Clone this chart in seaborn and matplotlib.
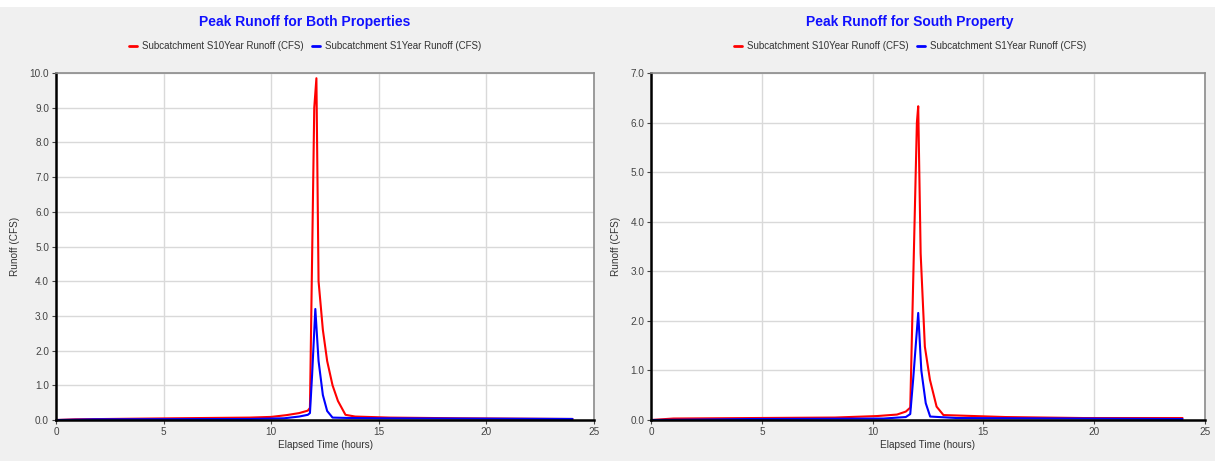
import pandas as pd
import seaborn as sns
import matplotlib.pyplot as plt
from matplotlib.lines import Line2D
from matplotlib.patches import Rectangle

# ---- data (hours, CFS) ----
both_t10 = [0, 0.9, 5.5, 9.0, 10.0, 10.7, 11.3, 11.7, 11.8, 12.0, 12.1, 12.2,
            12.4, 12.6, 12.85, 13.1, 13.45, 13.9, 15.5, 18.7, 24.0]
both_q10 = [0, 0.02, 0.05, 0.07, 0.09, 0.14, 0.2, 0.27, 0.35, 9.0, 9.85, 4.0,
            2.6, 1.7, 1.0, 0.55, 0.15, 0.1, 0.07, 0.05, 0.03]
both_t1 = [0, 1.8, 9.0, 10.6, 11.3, 11.7, 11.8, 11.9, 12.05, 12.2, 12.4,
           12.6, 12.85, 13.5, 15.0, 24.0]
both_q1 = [0, 0.02, 0.03, 0.05, 0.1, 0.15, 0.2, 1.3, 3.2, 1.7, 0.72,
           0.26, 0.07, 0.06, 0.05, 0.03]

south_t10 = [0, 1.0, 8.3, 10.2, 11.1, 11.5, 11.7, 12.0, 12.06, 12.17, 12.36,
             12.59, 12.89, 13.2, 16.0, 19.5, 24.0]
south_q10 = [0, 0.03, 0.05, 0.08, 0.11, 0.17, 0.25, 6.0, 6.33, 3.36, 1.48,
             0.81, 0.27, 0.1, 0.06, 0.04, 0.04]
south_t1 = [0, 4.5, 10.5, 11.5, 11.7, 11.83, 12.06, 12.2, 12.4, 12.6, 13.8,
            19.5, 24.0]
south_q1 = [0, 0.02, 0.03, 0.06, 0.12, 0.81, 2.16, 1.0, 0.34, 0.07, 0.04,
            0.03, 0.02]

series_names = ["Subcatchment S10Year Runoff (CFS)", "Subcatchment S1Year Runoff (CFS)"]
titles = ["Peak Runoff for Both Properties", "Peak Runoff for South Property"]
y_max = [10.0, 7.0]
x_ticks = [0, 5, 10, 15, 20, 25]


def make_frame(t10, q10, t1, q1):
    df = pd.DataFrame({
        "time": t10 + t1,
        "runoff": q10 + q1,
        "series": [series_names[0]] * len(t10) + [series_names[1]] * len(t1),
    })
    return df


frames = [make_frame(both_t10, both_q10, both_t1, both_q1),
          make_frame(south_t10, south_q10, south_t1, south_q1)]

sns.set_style("whitegrid")
plt.rcParams['font.family'] = ['Liberation Sans', 'DejaVu Sans']

bg = "#f0f0f0"
fig = plt.figure(figsize=(12.15, 4.61), dpi=100, facecolor=bg)
fig.patches.append(Rectangle((0, 0.985), 1, 0.015, transform=fig.transFigure,
                             facecolor="white", edgecolor="none", zorder=-1))

palette = {series_names[0]: "#ff0000", series_names[1]: "#0000ff"}
axes_pos = [[0.0461, 0.0889, 0.4428, 0.7527],
            [0.5360, 0.0889, 0.4555, 0.7527]]
panel_centers = [0.251, 0.749]

for i, df in enumerate(frames):
    ax = fig.add_axes(axes_pos[i])
    ax.set_facecolor("white")
    sns.lineplot(data=df, x="time", y="runoff", hue="series", palette=palette,
                 estimator=None, sort=False, lw=1.5, ax=ax, legend=False)
    ax.set_xlim(0, 25)
    ax.set_ylim(0, y_max[i])
    ax.set_xticks(x_ticks)
    yt = [k * 1.0 for k in range(int(y_max[i]) + 1)]
    ax.set_yticks(yt)
    ax.set_yticklabels([f"{v:.1f}" for v in yt])
    ax.grid(True, color="#d9d9d9", lw=1.0)
    ax.tick_params(axis="both", labelsize=7.2, colors="#444444", length=3,
                   width=0.8, left=True, bottom=True, pad=2)
    for side in ["left", "bottom"]:
        ax.spines[side].set_color("black")
        ax.spines[side].set_linewidth(1.8)
    for side in ["top", "right"]:
        ax.spines[side].set_color("#8c8c8c")
        ax.spines[side].set_linewidth(1.2)
    ax.set_xlabel("Elapsed Time (hours)", fontsize=7.2, color="#333333", labelpad=2)
    ax.set_ylabel("Runoff (CFS)", fontsize=7.2, color="#333333", labelpad=7)

    fig.text(panel_centers[i], 0.953, titles[i], ha="center", va="center",
             color="#1010ff", fontsize=10, fontweight="bold")
    handles = [Line2D([], [], color=palette[n], lw=2) for n in series_names]
    fig.legend(handles, series_names, loc="center", ncol=2,
               bbox_to_anchor=(panel_centers[i], 0.90), frameon=False,
               fontsize=7.0, handlelength=0.9, handletextpad=0.5,
               columnspacing=0.8, labelcolor="#333333")

fig.savefig("out.png", dpi=100, facecolor=bg)
